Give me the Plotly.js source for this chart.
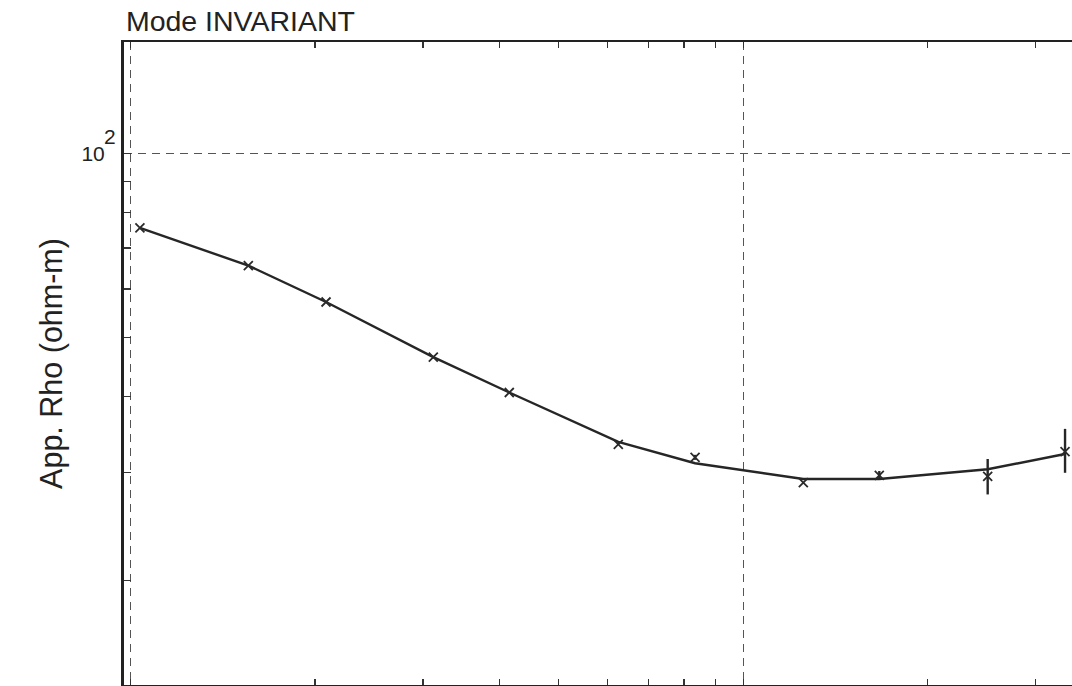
<!DOCTYPE html>
<html>
<head>
<meta charset="utf-8">
<script src="https://cdn.plot.ly/plotly-3.0.1.min.js"></script>
<style>html,body{margin:0;padding:0;background:#fff;overflow:hidden}#chart{width:1072px;height:686px}</style>
</head>
<body>
<div id="chart"></div>
<script>
// Period (arbitrary decade units) of each sounding point
const periods = [1.036, 1.557, 2.085, 3.120, 4.151, 6.252, 8.343, 12.53, 16.67, 25.05, 33.50];
// Observed apparent resistivity (ohm-m)
const rhoObserved = [75.5, 65.5, 57.1, 46.4, 40.6, 33.4, 31.8, 28.9, 29.7, 29.6, 32.5];
// Error bars (ohm-m)
const errPlus  = [0, 0, 0, 0, 0, 0, 0.3, 0, 0.5, 2.0, 2.9];
const errMinus = [0, 0, 0, 0, 0, 0, 0.3, 0, 0.5, 1.95, 2.5];
// Model response (ohm-m)
const rhoModel = [75.5, 65.5, 57.1, 46.4, 40.6, 33.7, 31.1, 29.3, 29.3, 30.4, 32.2];

const xMajor = [1, 10];
const xMinor = [2, 3, 4, 5, 6, 7, 8, 9, 20, 30];
const yMajor = [100];
const yMajorBase = ['10'];
const yMajorExp = ['2'];
const yMinor = [20, 30, 40, 50, 60, 70, 80, 90];

const ink = '#222';

const traces = [
  {
    x: periods, y: rhoModel, type: 'scatter', mode: 'lines',
    line: {color: '#262626', width: 2.4}, hoverinfo: 'skip', showlegend: false
  },
  {
    x: periods, y: rhoObserved, type: 'scatter', mode: 'markers',
    marker: {symbol: 'x-thin', size: 9, line: {color: '#2a2a2a', width: 1.8}, color: '#2a2a2a'},
    error_y: {type: 'data', array: errPlus, arrayminus: errMinus, visible: true, thickness: 2.4, width: 0, color: '#262626'},
    showlegend: false
  }
];

const layout = {
  width: 1072, height: 686,
  margin: {l: 124, r: 0, t: 42, b: 1},
  paper_bgcolor: '#fff', plot_bgcolor: '#fff',
  font: {family: 'Liberation Sans, Arial, sans-serif', color: ink},
  title: {
    text: 'Mode INVARIANT', x: 0.002, xref: 'paper', xanchor: 'left',
    y: 1 - 21/686, yref: 'container', yanchor: 'middle',
    font: {size: 28.5, color: ink}
  },
  xaxis: {
    type: 'log', range: [-0.0106, 1.5364],
    tickmode: 'array', tickvals: xMajor, showticklabels: false,
    ticks: 'inside', ticklen: 6, tickwidth: 1.3, tickcolor: '#333',
    showgrid: true, gridcolor: '#555', gridwidth: 1.3, griddash: '8px,6px',
    minor: {tickmode: 'array', tickvals: xMinor, ticks: 'inside', ticklen: 6, tickwidth: 1.3, tickcolor: '#333', showgrid: false},
    showline: true, linecolor: ink, linewidth: 2, mirror: 'ticks',
    zeroline: false
  },
  yaxis: {
    type: 'log', range: [1.1298, 2.1822],
    tickmode: 'array', tickvals: yMajor, ticktext: yMajorBase,
    tickfont: {size: 21, color: ink}, ticklabelstandoff: 12,
    ticks: 'inside', ticklen: 7, tickwidth: 1.3, tickcolor: '#333',
    showgrid: true, gridcolor: '#555', gridwidth: 1.3, griddash: '8px,6px',
    minor: {tickmode: 'array', tickvals: yMinor, ticks: 'inside', ticklen: 7, tickwidth: 1.3, tickcolor: '#333', showgrid: false},
    showline: true, linecolor: ink, linewidth: 3,
    title: {text: 'App. Rho (ohm-m)', font: {size: 30.5, color: ink}, standoff: 10},
    zeroline: false
  },
  annotations: yMajor.map((v, i) => ({
    text: yMajorExp[i], xref: 'paper', x: 0, xanchor: 'right', xshift: -6,
    yref: 'y', y: Math.log10(v), yanchor: 'bottom', yshift: 3,
    showarrow: false, font: {size: 21, color: ink}
  })),
  showlegend: false
};

Plotly.newPlot('chart', traces, layout, {displayModeBar: false, staticPlot: true});
</script>
</body>
</html>
